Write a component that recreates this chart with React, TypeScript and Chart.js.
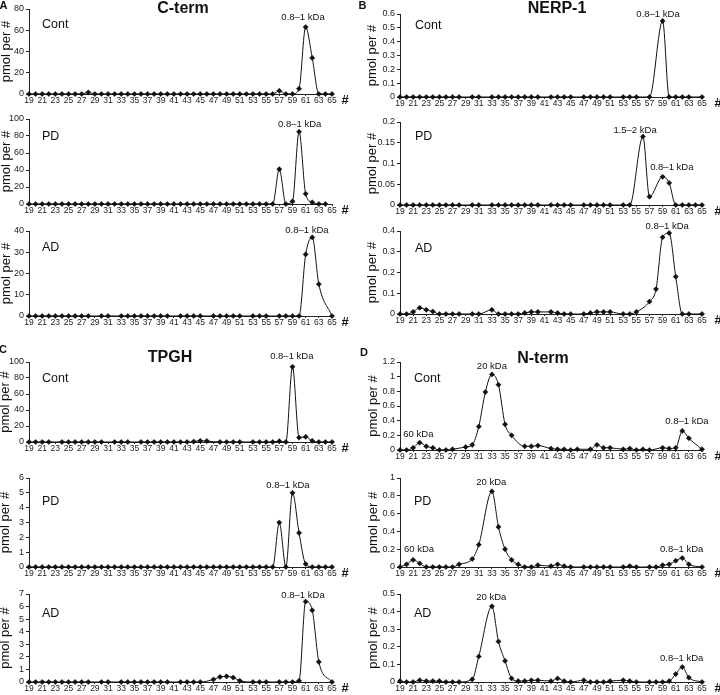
import React, { useEffect, useRef } from "react";
import { Chart, registerables } from "chart.js";
Chart.register(...registerables);

const FONT = '"Liberation Sans", Arial, Helvetica, sans-serif';

// Fractions 19..65
const fractions = [
  19, 20, 21, 22, 23, 24, 25, 26, 27, 28,
  29, 30, 31, 32, 33, 34, 35, 36, 37, 38,
  39, 40, 41, 42, 43, 44, 45, 46, 47, 48,
  49, 50, 51, 52, 53, 54, 55, 56, 57, 58,
  59, 60, 61, 62, 63, 64, 65,
];

const N = null;

// A: C-term
const cTermCont = [
  0, 0, 0, 0, 0, 0, 0, 0, 0, 1.5,
  0, 0, 0, 0, 0, 0, 0, 0, 0, 0,
  0, 0, 0, 0, 0, 0, 0, 0, 0, 0,
  0, 0, 0, 0, 0, 0, 0, 0, 3, 0,
  0, 5, 63, 34, 0, 0, 0,
];
const cTermPD = [
  0, 0, 0, 0, 0, 0, 0, 0, 0, 0,
  0, 0, 0, 0, 0, 0, 0, 0, 0, 0,
  0, 0, 0, 0, 0, 0, 0, 0, 0, 0,
  0, 0, 0, 0, 0, 0, 0, 0, 41, 0,
  3, 85, 12, 2, 0, 0, N,
];
const cTermAD = [
  0, 0, 0, 0, 0, 0, 0, 0, 0, 0,
  N, 0, 0, N, 0, 0, 0, 0, 0, 0,
  0, 0, N, 0, 0, 0, 0, N, 0, 0,
  0, 0, 0, N, 0, 0, 0, N, 0, 0,
  0, 0, 29, 37, 15, N, 0,
];

// B: NERP-1
const nerpCont = [
  0, 0, 0, 0, 0, 0, 0, 0, 0, 0,
  N, 0, 0, N, 0, 0, 0, 0, 0, 0,
  0, 0, N, 0, 0, 0, 0, N, 0, 0,
  0, 0, 0, N, 0, 0, 0, N, 0, N,
  0.55, 0, 0, 0, 0, N, 0,
];
const nerpPD = [
  0, 0, 0, 0, 0, 0, 0, 0, 0, 0,
  N, 0, 0, N, 0, 0, 0, 0, 0, 0,
  0, 0, N, 0, 0, 0, 0, N, 0, 0,
  0, 0, 0, N, 0, 0, N, 0.165, 0.02, N,
  0.068, 0.053, 0, 0, 0, 0, 0,
];
const nerpAD = [
  0, 0, 0.01, 0.03, 0.02, 0.012, 0, 0, 0, 0,
  N, 0, 0, N, 0.02, 0, 0, 0, 0, 0.005,
  0.01, 0.01, N, 0.01, 0.005, 0, 0, N, 0, 0.005,
  0.01, 0.01, 0.01, N, 0, 0, 0.01, N, 0.06, 0.12,
  0.37, 0.39, 0.18, 0, 0, N, 0,
];

// C: TPGH
const tpghCont = [
  0, 0, 0, 0, N, 0, 0, 0, 0, 0,
  0, 0, N, 0, 0, 0, N, 0, 0, 0,
  0, 0, 0, 0, 0, 0.5, 1.5, 1.2, N, 0,
  0, 0, 0, N, 0, 0, 0, 0, 1, 0,
  94, 5.5, 6.5, 1.5, 0, 0, 0,
];
const tpghPD = [
  0, 0, 0, 0, 0, 0, 0, 0, 0, 0,
  0, 0, 0, 0, 0, 0, 0, 0, 0, 0,
  0, 0, 0, 0, 0, 0, 0, 0, 0, 0,
  0, 0, 0, 0, 0, 0, 0, 0, 3, 0,
  5, 2.3, 0.2, 0, 0, 0, 0,
];
const tpghAD = [
  0, 0, 0, 0, 0, 0, 0, 0, 0, 0,
  N, 0, 0, N, 0, 0, 0, 0, 0, 0,
  0, 0, N, 0, 0, 0, 0, N, 0.2, 0.4,
  0.45, 0.35, 0.1, N, 0, 0, 0, N, 0, 0,
  0, 0.1, 6.4, 5.7, 1.6, N, 0,
];

// D: N-term
const nTermCont = [
  0, 0, 0.03, 0.1, 0.05, 0.03, 0, 0, 0.01, N,
  0.04, 0.07, 0.32, 0.79, 1.03, 0.89, 0.35, 0.2, N, 0.05,
  0.05, 0.06, N, 0.02, 0.01, 0.01, 0, 0.01, N, 0.01,
  0.07, 0.03, 0.03, N, 0.01, 0.02, 0, 0.01, 0, N,
  0.03, 0.02, 0.03, 0.26, 0.16, N, 0.01,
];
const nTermPD = [
  0, 0.03, 0.08, 0.04, 0, 0, 0, 0, 0, 0.03,
  N, 0.09, 0.25, N, 0.85, 0.45, 0.2, 0.08, 0.03, 0,
  0, 0.02, N, 0.01, 0.03, 0.01, 0, N, 0, 0,
  0, 0, 0, N, 0, 0.01, 0, N, 0, 0,
  0.02, 0.03, 0.07, 0.1, 0.03, N, 0,
];
const nTermAD = [
  0.005, 0, 0, 0.01, 0.005, 0.005, 0.005, 0, 0, 0,
  N, 0.015, 0.145, N, 0.43, 0.23, 0.12, 0.02, 0.005, 0.005,
  0.01, 0.01, N, 0.005, 0.02, 0.005, 0, N, 0.01, 0,
  0, 0, 0.005, N, 0.01, 0.005, 0, N, 0, 0,
  0, 0.005, 0.045, 0.085, 0.025, N, 0,
];

// Peak annotation labels (data coordinates)
const KDA = "0.8\u20131 kDa";
const cTermContPeaks = [{ x: 60.6, y: 72.5, text: KDA }];
const cTermPDPeaks = [{ x: 60.1, y: 93.8, text: KDA }];
const cTermADPeaks = [{ x: 61.2, y: 40.5, text: KDA }];
const nerpContPeaks = [{ x: 58.3, y: 0.6, text: KDA }];
const nerpPDPeaks = [
  { x: 54.8, y: 0.181, text: "1.5\u20132 kDa" },
  { x: 60.4, y: 0.091, text: KDA },
];
const nerpADPeaks = [{ x: 59.7, y: 0.424, text: KDA }];
const tpghContPeaks = [{ x: 58.9, y: 107.5, text: KDA }];
const tpghPDPeaks = [{ x: 58.3, y: 5.53, text: KDA }];
const tpghADPeaks = [{ x: 60.6, y: 6.92, text: KDA }];
const nTermContPeaks = [
  { x: 33.0, y: 1.145, text: "20 kDa" },
  { x: 21.8, y: 0.218, text: "60 kDa" },
  { x: 62.7, y: 0.395, text: KDA },
];
const nTermPDPeaks = [
  { x: 32.9, y: 0.952, text: "20 kDa" },
  { x: 21.9, y: 0.199, text: "60 kDa" },
  { x: 61.9, y: 0.199, text: KDA },
];
const nTermADPeaks = [
  { x: 32.9, y: 0.481, text: "20 kDa" },
  { x: 61.9, y: 0.135, text: KDA },
];

type Peak = { x: number; y: number; text: string };
type Sub = {
  data: (number | null)[];
  name: string;
  yMax: number;
  yStep: number;
  peaks: Peak[];
  panelLeft: number;
  areaLeft: number;
  areaRight: number;
  rightPad: number;
  top: number;
  bottom: number;
  nameDx: number;
  nameDy: number;
  titleX: number;
  hashDx: number;
};

const leftPanel = { panelLeft: 0, areaLeft: 29, areaRight: 332, rightPad: 28, hashDx: 13, nameDx: 13 };
const rightPanel = { panelLeft: 360, areaLeft: 400, areaRight: 702, rightPad: 18, hashDx: 16, nameDx: 15 };

const subs: Sub[] = [
  { ...leftPanel, titleX: 6.5, data: cTermCont, name: "Cont", yMax: 80, yStep: 20, peaks: cTermContPeaks, top: 9, bottom: 94, nameDy: 16 },
  { ...leftPanel, titleX: 6.5, data: cTermPD, name: "PD", yMax: 100, yStep: 20, peaks: cTermPDPeaks, top: 119, bottom: 204, nameDy: 18 },
  { ...leftPanel, titleX: 6.5, data: cTermAD, name: "AD", yMax: 40, yStep: 10, peaks: cTermADPeaks, top: 231, bottom: 316, nameDy: 17 },
  { ...rightPanel, titleX: 12, data: nerpCont, name: "Cont", yMax: 0.6, yStep: 0.1, peaks: nerpContPeaks, top: 14, bottom: 97, nameDy: 12 },
  { ...rightPanel, titleX: 12, data: nerpPD, name: "PD", yMax: 0.2, yStep: 0.05, peaks: nerpPDPeaks, top: 122, bottom: 205, nameDy: 15 },
  { ...rightPanel, titleX: 12, data: nerpAD, name: "AD", yMax: 0.4, yStep: 0.1, peaks: nerpADPeaks, top: 231, bottom: 314, nameDy: 18 },
  { ...leftPanel, titleX: 5.5, data: tpghCont, name: "Cont", yMax: 100, yStep: 20, peaks: tpghContPeaks, top: 362, bottom: 442, nameDy: 17 },
  { ...leftPanel, titleX: 5.5, data: tpghPD, name: "PD", yMax: 6, yStep: 1, peaks: tpghPDPeaks, top: 478, bottom: 567, nameDy: 24 },
  { ...leftPanel, titleX: 5.5, data: tpghAD, name: "AD", yMax: 7, yStep: 1, peaks: tpghADPeaks, top: 594, bottom: 682, nameDy: 20 },
  { ...rightPanel, nameDx: 14, titleX: 13, data: nTermCont, name: "Cont", yMax: 1.2, yStep: 0.2, peaks: nTermContPeaks, top: 362, bottom: 450, nameDy: 17 },
  { ...rightPanel, nameDx: 14, titleX: 13, data: nTermPD, name: "PD", yMax: 1, yStep: 0.2, peaks: nTermPDPeaks, top: 478, bottom: 567, nameDy: 24 },
  { ...rightPanel, nameDx: 14, titleX: 13, data: nTermAD, name: "AD", yMax: 0.5, yStep: 0.1, peaks: nTermADPeaks, top: 594, bottom: 682, nameDy: 20 },
];

const panelTitles = [
  { text: "C-term", x: 183, y: 8 },
  { text: "NERP-1", x: 557, y: 7.5 },
  { text: "TPGH", x: 170, y: 357 },
  { text: "N-term", x: 543, y: 358 },
];
const panelLetters = [
  { text: "A", x: 3.5, y: 4.5 },
  { text: "B", x: 362.5, y: 5 },
  { text: "C", x: 3, y: 348.5 },
  { text: "D", x: 364, y: 351.5 },
];

const PAD_TOP = 12;
const X_AXIS_H = 14;
const INK = "#111";

function fmtY(v: number | string) {
  const n = Number(v);
  if (Math.abs(n) < 1e-9) return "0";
  return String(parseFloat(n.toFixed(3)));
}

function SubChart({ cfg }: { cfg: Sub }) {
  const ref = useRef<HTMLCanvasElement>(null);
  const width = cfg.areaRight + cfg.rightPad - cfg.panelLeft;
  const height = cfg.bottom - cfg.top + PAD_TOP + X_AXIS_H;
  useEffect(() => {
    if (!ref.current) return;
    const yAxisW = cfg.areaLeft - cfg.panelLeft;
    const points = fractions.map((f, i) => ({ x: f, y: cfg.data[i] }));
    const annot = {
      id: "annot",
      afterDraw(chart: any) {
        const ctx = chart.ctx as CanvasRenderingContext2D;
        const { left, top, right, bottom } = chart.chartArea;
        const xs = chart.scales.x;
        const ys = chart.scales.y;
        ctx.save();
        ctx.fillStyle = INK;
        ctx.textBaseline = "middle";
        ctx.textAlign = "left";
        ctx.font = `12.5px ${FONT}`;
        ctx.fillText(cfg.name, left + cfg.nameDx, top + cfg.nameDy);
        ctx.textAlign = "center";
        ctx.font = `9.5px ${FONT}`;
        for (const p of cfg.peaks) {
          ctx.fillText(p.text, xs.getPixelForValue(p.x), ys.getPixelForValue(p.y));
        }
        ctx.font = `bold 13px ${FONT}`;
        ctx.fillText("#", right + cfg.hashDx, bottom + 6);
        ctx.translate(cfg.titleX, (top + bottom) / 2);
        ctx.rotate(-Math.PI / 2);
        ctx.font = `13px ${FONT}`;
        ctx.fillText("pmol per #", 0, 0);
        ctx.restore();
      },
    };
    const chart = new Chart(ref.current, {
      type: "line",
      data: {
        datasets: [
          {
            data: points as any,
            borderColor: INK,
            borderWidth: 1,
            pointStyle: "rectRot",
            pointRadius: 2.6,
            pointBackgroundColor: INK,
            pointBorderColor: INK,
            pointBorderWidth: 0.5,
            cubicInterpolationMode: "monotone",
            spanGaps: true,
            clip: false as any,
          },
        ],
      },
      options: {
        responsive: false,
        animation: false,
        devicePixelRatio: 1,
        layout: { padding: { top: PAD_TOP, right: cfg.rightPad, left: 0, bottom: 0 } },
        plugins: { legend: { display: false }, tooltip: { enabled: false } },
        scales: {
          x: {
            type: "linear",
            min: 19,
            max: 65,
            afterFit: (s: any) => {
              s.height = X_AXIS_H;
            },
            border: { color: "#222", width: 1 },
            grid: { display: true, drawOnChartArea: false, tickLength: 2, color: "#222" },
            ticks: {
              stepSize: 2,
              autoSkip: false,
              maxRotation: 0,
              minRotation: 0,
              padding: 0,
              color: "#222",
              font: { family: FONT, size: 8.5 },
              callback: (v: any) => String(Math.round(Number(v))),
            },
          },
          y: {
            min: 0,
            max: cfg.yMax,
            afterFit: (s: any) => {
              s.width = yAxisW;
            },
            border: { color: "#222", width: 1 },
            grid: { display: true, drawOnChartArea: false, tickLength: 3, color: "#222" },
            ticks: {
              stepSize: cfg.yStep,
              autoSkip: false,
              padding: 2,
              color: "#222",
              font: { family: FONT, size: 9 },
              callback: (v: any) => fmtY(v),
            },
          },
        },
      } as any,
      plugins: [annot],
    });
    return () => chart.destroy();
  }, []);
  return (
    <canvas
      ref={ref}
      width={width}
      height={height}
      style={{ position: "absolute", left: cfg.panelLeft, top: cfg.top - PAD_TOP, width, height }}
    />
  );
}

export default function App() {
  return (
    <div
      style={{
        position: "absolute",
        left: 0,
        top: 0,
        width: 720,
        height: 695,
        overflow: "hidden",
        background: "#fff",
        fontFamily: FONT,
      }}
    >
      {subs.map((s, i) => (
        <SubChart key={i} cfg={s} />
      ))}
      {panelTitles.map((t, i) => (
        <div
          key={"t" + i}
          style={{
            position: "absolute",
            left: t.x,
            top: t.y,
            transform: "translate(-50%, -50%)",
            fontWeight: "bold",
            fontSize: 16,
            lineHeight: "18px",
            whiteSpace: "nowrap",
            color: INK,
          }}
        >
          {t.text}
        </div>
      ))}
      {panelLetters.map((t, i) => (
        <div
          key={"l" + i}
          style={{
            position: "absolute",
            left: t.x,
            top: t.y,
            transform: "translate(-50%, -50%)",
            fontWeight: "bold",
            fontSize: 11,
            lineHeight: "12px",
            color: INK,
          }}
        >
          {t.text}
        </div>
      ))}
    </div>
  );
}
